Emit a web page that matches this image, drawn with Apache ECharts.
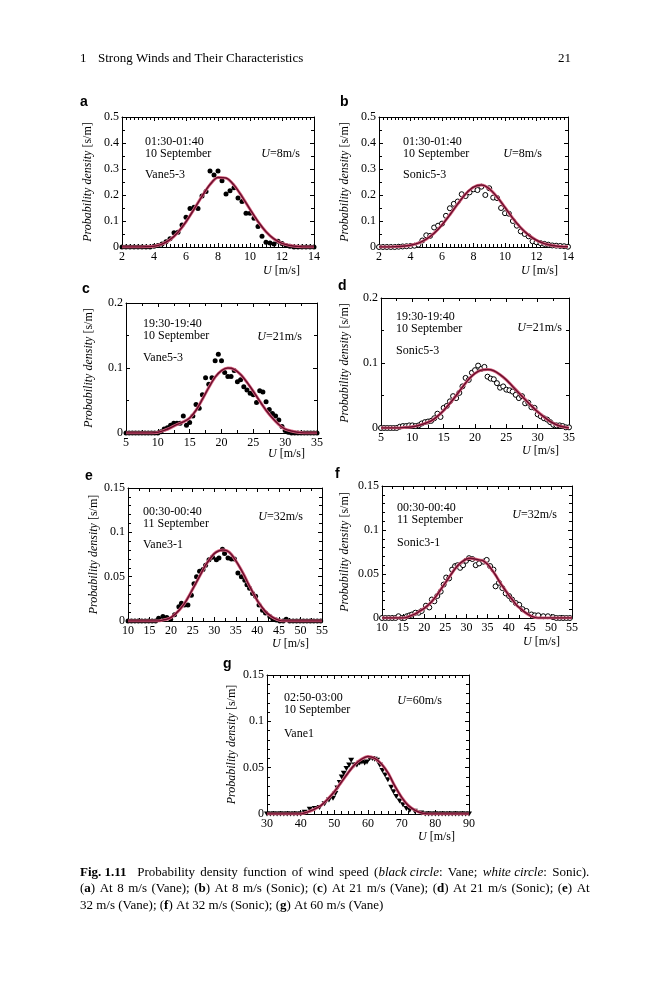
<!DOCTYPE html>
<html lang="en">
<head>
    <meta charset="UTF-8">
    <title>Fig. 1.11 Probability density of wind speed</title>
    <script src="https://cdn.jsdelivr.net/npm/echarts@6/dist/echarts.min.js"></script>
    <style>
        html, body { margin: 0; padding: 0; background: #fff; }
        #fig { width: 659px; height: 1000px; }
    </style>
</head>
<body>
<div id="fig"></div>
<script type="text/javascript">

    // ---- data: [U (m/s), probability density (s/m)] ----

    // (a) vane, 8 m/s
    const ptsA = [[2,0],[2.25,0],[2.5,0],[2.75,0],[3,0],[3.25,0],[3.5,0],[3.75,0],[4,0.003],[4.25,0.006],[4.5,0.012],[4.75,0.02],
        [5,0.032],[5.25,0.055],[5.5,0.057],[5.75,0.085],[6,0.114],[6.25,0.148],[6.5,0.153],[6.75,0.148],[7,0.196],[7.25,0.213],
        [7.5,0.292],[7.75,0.277],[8,0.292],[8.25,0.255],[8.5,0.204],[8.75,0.216],[9,0.228],[9.25,0.188],[9.5,0.175],[9.75,0.13],
        [10,0.13],[10.25,0.111],[10.5,0.079],[10.75,0.041],[11,0.018],[11.25,0.015],[11.5,0.012],[11.75,0.022],[12,0.013],
        [12.25,0.006],[12.5,0.003],[12.75,0],[13,0],[13.25,0],[13.5,0],[13.75,0],[14,0]];
    const fitA = [[2,0],[2.5,0],[3,0],[3.5,0.001],[4,0.003],[4.5,0.011],[5,0.028],[5.5,0.057],[6,0.097],[6.5,0.145],[7,0.195],
        [7.5,0.24],[8,0.267],[8.5,0.265],[9,0.238],[9.5,0.194],[10,0.145],[10.5,0.098],[11,0.059],[11.5,0.031],[12,0.014],
        [12.5,0.006],[13,0.002],[13.5,0],[14,0]];

    // (b) sonic, 8 m/s
    const ptsB = [[2,0],[2.25,0],[2.5,0],[2.75,0],[3,0],[3.25,0.001],[3.5,0.002],[3.75,0.003],[4,0.004],[4.25,0.005],[4.5,0.009],
        [4.75,0.025],[5,0.045],[5.25,0.043],[5.5,0.075],[5.75,0.082],[6,0.09],[6.25,0.12],[6.5,0.149],[6.75,0.166],[7,0.175],
        [7.25,0.203],[7.5,0.196],[7.75,0.21],[8,0.222],[8.25,0.219],[8.5,0.232],[8.75,0.2],[9,0.226],[9.25,0.19],[9.5,0.188],
        [9.75,0.15],[10,0.13],[10.25,0.128],[10.5,0.1],[10.75,0.082],[11,0.06],[11.25,0.05],[11.5,0.041],[11.75,0.022],
        [12,0.018],[12.25,0.015],[12.5,0.012],[12.75,0.009],[13,0.006],[13.25,0.005],[13.5,0.004],[13.75,0.003],[14,0.001]];
    const fitB = [[2,0],[2.5,0],[3,0.001],[3.5,0.003],[4,0.007],[4.5,0.015],[5,0.03],[5.5,0.053],[6,0.085],[6.5,0.124],[7,0.166],
        [7.5,0.204],[8,0.23],[8.5,0.238],[9,0.224],[9.5,0.192],[10,0.152],[10.5,0.11],[11,0.074],[11.5,0.046],[12,0.026],
        [12.5,0.013],[13,0.006],[13.5,0.002],[14,0.001]];

    // (c) vane, 21 m/s
    const ptsC = [[5,0],[5.5,0],[6,0],[6.5,0],[7,0],[7.5,0],[8,0],[8.5,0],[9,0],[9.5,0],[10,0],[10.5,0.002],[11,0.006],
        [11.5,0.008],[12,0.012],[12.5,0.015],[13,0.015],[13.5,0.015],[14,0.026],[14.5,0.012],[15,0.016],[15.5,0.026],
        [16,0.044],[16.5,0.038],[17,0.059],[17.5,0.085],[18,0.075],[18.5,0.085],[19,0.111],[19.5,0.121],[20,0.111],
        [20.5,0.093],[21,0.087],[21.5,0.087],[22,0.096],[22.5,0.079],[23,0.082],[23.5,0.071],[24,0.066],[24.5,0.061],
        [25,0.059],[25.5,0.047],[26,0.065],[26.5,0.063],[27,0.048],[27.5,0.036],[28,0.03],[28.5,0.026],[29,0.02],
        [29.5,0.01],[30,0.004],[30.5,0.001],[31,0],[31.5,0],[32,0],[32.5,0],[33,0],[33.5,0],[34,0],[34.5,0],[35,0]];
    const fitC = [[5,0],[6,0],[7,0],[8,0],[9,0],[10,0.001],[11,0.004],[12,0.008],[13,0.013],[14,0.017],[15,0.023],[16,0.035],
        [17,0.052],[18,0.07],[19,0.086],[20,0.096],[21,0.1],[22,0.098],[23,0.09],[24,0.078],[25,0.064],[26,0.049],[27,0.035],
        [28,0.023],[29,0.013],[30,0.006],[31,0.003],[32,0.001],[33,0],[34,0],[35,0]];

    // (d) sonic, 21 m/s
    const ptsD = [[5,0],[5.5,0],[6,0],[6.5,0],[7,0],[7.5,0],[8,0.002],[8.5,0.003],[9,0.003],[9.5,0.004],[10,0.004],[10.5,0.003],
        [11,0.004],[11.5,0.007],[12,0.009],[12.5,0.01],[13,0.011],[13.5,0.015],[14,0.022],[14.5,0.017],[15,0.031],[15.5,0.034],
        [16,0.041],[16.5,0.049],[17,0.046],[17.5,0.054],[18,0.064],[18.5,0.077],[19,0.074],[19.5,0.085],[20,0.089],[20.5,0.096],
        [21,0.091],[21.5,0.094],[22,0.079],[22.5,0.076],[23,0.075],[23.5,0.069],[24,0.062],[24.5,0.064],[25,0.059],[25.5,0.058],
        [26,0.056],[26.5,0.051],[27,0.046],[27.5,0.049],[28,0.038],[28.5,0.039],[29,0.032],[29.5,0.031],[30,0.021],[30.5,0.018],
        [31,0.015],[31.5,0.013],[32,0.009],[32.5,0.005],[33,0.004],[33.5,0.004],[34,0.003],[34.5,0.001],[35,0.001]];
    const fitD = [[5,0],[6,0],[7,0],[8,0],[9,0.001],[10,0.002],[11,0.004],[12,0.007],[13,0.011],[14,0.018],[15,0.027],[16,0.038],
        [17,0.05],[18,0.063],[19,0.075],[20,0.084],[21,0.089],[22,0.09],[23,0.088],[24,0.082],[25,0.074],[26,0.064],[27,0.054],
        [28,0.044],[29,0.034],[30,0.025],[31,0.017],[32,0.01],[33,0.005],[34,0.002],[35,0]];

    // (e) vane, 32 m/s
    const ptsE = [[10,0],[10.8,0],[11.6,0],[12.4,0],[13.2,0],[14,0],[14.8,0],[15.6,0],[16.4,0],[17.1,0.003],[18.1,0.005],[19,0.004],
        [19.9,0.002],[20.8,0.007],[21.8,0.016],[22.4,0.02],[23.1,0.018],[23.9,0.018],[24.7,0.029],[25.3,0.042],[25.9,0.05],
        [26.6,0.056],[27.4,0.058],[28,0.063],[28.8,0.069],[29.6,0.072],[30.5,0.069],[31.1,0.071],[31.9,0.081],[32.4,0.076],
        [33.2,0.071],[34,0.07],[34.7,0.07],[35.5,0.054],[36.3,0.05],[37.1,0.046],[37.6,0.041],[38.2,0.037],[38.9,0.031],
        [39.6,0.028],[40.4,0.018],[41.2,0.012],[41.9,0.009],[42.9,0.005],[43.6,0.002],[44.4,0.001],[45.2,0],[46,0],[46.7,0.002],
        [47.5,0],[48.3,0],[49.1,0],[49.9,0],[50.7,0],[51.5,0],[52.3,0],[53.1,0],[53.9,0],[54.7,0]];
    const fitE = [[10,0],[12,0],[14,0],[16,0],[17,0],[18,0.001],[19,0.002],[20,0.004],[21,0.008],[22,0.013],[23,0.019],[24,0.027],
        [25,0.036],[26,0.045],[27,0.054],[28,0.063],[29,0.07],[30,0.076],[31,0.079],[32,0.08],[33,0.079],[34,0.075],[35,0.068],
        [36,0.06],[37,0.051],[38,0.041],[39,0.032],[40,0.023],[41,0.016],[42,0.01],[43,0.006],[44,0.003],[45,0.001],[46,0],
        [48,0],[50,0],[52,0],[55,0]];

    // (f) sonic, 32 m/s
    const ptsF = [[10,0],[10.8,0],[11.6,0],[12.4,0],[13.2,0],[13.9,0.002],[14.7,0],[15.3,0],[15.9,0.002],[16.5,0.003],[17.1,0.004],
        [17.9,0.006],[18.7,0.006],[19.4,0.008],[20.4,0.014],[21.2,0.012],[21.8,0.021],[22.4,0.019],[23.1,0.025],[23.9,0.03],
        [24.6,0.038],[25.2,0.046],[25.9,0.045],[26.6,0.055],[27.3,0.059],[27.9,0.06],[28.5,0.057],[29.2,0.06],[29.9,0.065],
        [30.6,0.068],[31.4,0.067],[32.2,0.06],[33,0.062],[34,0.064],[34.8,0.066],[35.6,0.059],[36.4,0.055],[36.9,0.036],
        [37.7,0.04],[38.5,0.034],[39.3,0.028],[40.1,0.025],[40.8,0.021],[41.7,0.017],[42.5,0.015],[43.3,0.01],[44.2,0.008],
        [45.4,0.004],[46.2,0.003],[47,0.003],[48.2,0.002],[49.3,0.002],[50.5,0.001],[51.3,0],[52.1,0],[52.9,0],[53.7,0],[54.5,0]];
    const fitF = [[10,0],[12,0],[14,0],[15,0],[16,0.001],[17,0.003],[18,0.005],[19,0.008],[20,0.011],[21,0.015],[22,0.02],
        [23,0.026],[24,0.033],[25,0.04],[26,0.047],[27,0.054],[28,0.06],[29,0.064],[30,0.067],[31,0.068],[32,0.067],[33,0.066],
        [34,0.065],[35,0.061],[36,0.055],[37,0.048],[38,0.04],[39,0.033],[40,0.026],[41,0.02],[42,0.014],[43,0.01],[44,0.006],
        [45,0.003],[46,0.001],[47,0],[50,0],[55,0]];

    // (g) vane, 60 m/s
    const ptsG = [[30,0],[31,0],[32,0],[33,0],[34,0],[35,0],[36,0],[37,0],[38,0],[39,0],[40,0],[41.2,0.002],[42.7,0.005],
        [44.2,0.006],[45.6,0.007],[47.1,0.011],[48.4,0.015],[49.6,0.017],[50.3,0.022],[50.9,0.028],[51.6,0.034],[52.2,0.04],
        [52.8,0.044],[53.6,0.049],[54.4,0.053],[55,0.058],[56,0.053],[56.7,0.053],[57.5,0.055],[58.2,0.056],[59,0.055],
        [59.7,0.056],[60.5,0.06],[61.3,0.06],[62,0.059],[62.7,0.058],[63.5,0.053],[64.3,0.047],[65.1,0.042],[65.9,0.037],
        [66.9,0.029],[67.6,0.024],[68.4,0.019],[69.4,0.014],[70.4,0.01],[71.4,0.006],[72.4,0.004],[73.9,0.003],[75.8,0.001],
        [77,0],[78,0],[79,0],[80,0],[81,0],[82,0],[83,0],[84,0],[85,0],[86,0],[87,0],[88,0],[89,0],[90,0]];
    const fitG = [[30,0],[35,0],[40,0],[41,0.001],[42,0.002],[44,0.005],[46,0.009],[48,0.016],[50,0.024],[52,0.034],[54,0.044],
        [56,0.053],[58,0.059],[60,0.062],[62,0.06],[64,0.054],[66,0.044],[68,0.03],[70,0.018],[72,0.009],[74,0.004],[76,0.001],
        [78,0],[84,0],[90,0]];

    // panel labels and annotations
    const letters = ['a', 'b', 'c', 'd', 'e', 'f', 'g'];
    const periods = ['01:30-01:40\n10 September', '01:30-01:40\n10 September', '19:30-19:40\n10 September',
        '19:30-19:40\n10 September', '00:30-00:40\n11 September', '00:30-00:40\n11 September', '02:50-03:00\n10 September'];
    const sensors = ['Vane5-3', 'Sonic5-3', 'Vane5-3', 'Sonic5-3', 'Vane3-1', 'Sonic3-1', 'Vane1'];
    const meanU = ['8', '8', '21', '21', '32', '32', '60'];
    const points = [ptsA, ptsB, ptsC, ptsD, ptsE, ptsF, ptsG];
    const fits = [fitA, fitB, fitC, fitD, fitE, fitF, fitG];

    // axis scales: [min, max, interval, minor splits]
    const xScale = [[2, 14, 2, 8], [2, 14, 2, 8], [5, 35, 5, 2], [5, 35, 5, 2], [10, 55, 5, 2], [10, 55, 5, 2], [30, 90, 10, 5]];
    const yScale = [[0, 0.5, 0.1, 2], [0, 0.5, 0.1, 2], [0, 0.2, 0.1, 2], [0, 0.2, 0.1, 2],
        [0, 0.15, 0.05, 5], [0, 0.15, 0.05, 5], [0, 0.15, 0.05, 5]];

    // ---- layout (pixels) ----
    const boxes = [
        {left: 122, top: 117, width: 192, height: 130},
        {left: 379, top: 117, width: 189, height: 130},
        {left: 126, top: 303, width: 191, height: 130},
        {left: 381, top: 298, width: 188, height: 130},
        {left: 128, top: 488, width: 194, height: 133},
        {left: 382, top: 486, width: 190, height: 132},
        {left: 267, top: 675, width: 202, height: 139}
    ];
    const yNameGap = [28, 28, 31, 30, 27, 31, 29];
    // where the texts sit, relative to plot box: [periodDx, periodDy, sensorDy, uRightInset, uDy]
    const notePos = [[23, 19, 52, 14, 31], [24, 19, 52, 26, 31], [17, 15, 49, 15, 28], [15, 13, 47, 7, 24],
        [15, 18, 51, 19, 23], [15, 16, 51, 15, 23], [17, 17, 53, 27, 20]];
    // panel letter [x, y], x-name [left, top]
    const letterPos = [[80, 95], [340, 95], [82, 282], [338, 279], [85, 469], [335, 467], [223, 657]];
    const xNamePos = [[263, 265], [521, 265], [268, 448], [522, 445], [272, 638], [523, 636], [418, 831]];

    const serif = 'Liberation Serif';
    const black = '#000';

    let chart = echarts.init(document.getElementById('fig'));

    let grids = [], xAxes = [], yAxes = [], series = [], titles = [];

    function axisCommon(scale, pos, labels, gridIndex, margin) {
        return {
            gridIndex: gridIndex,
            type: 'value',
            position: pos,
            min: scale[0],
            max: scale[1],
            interval: scale[2],
            axisLine: {show: true, onZero: false, lineStyle: {color: black, width: 1}},
            axisTick: {show: true, inside: true, length: 4, lineStyle: {color: black, width: 1}},
            minorTick: {show: true, splitNumber: scale[3], length: 3, lineStyle: {color: black, width: 1}},
            splitLine: {show: false},
            minorSplitLine: {show: false},
            axisLabel: {show: labels, color: black, fontFamily: serif, fontSize: 12, margin: margin}
        };
    }

    for (let i = 0; i < 7; i++) {
        let b = boxes[i];
        grids.push({left: b.left, top: b.top, width: b.width, height: b.height, containLabel: false, outerBoundsMode: 'none'});

        xAxes.push(axisCommon(xScale[i], 'bottom', true, i, 4));
        xAxes.push(axisCommon(xScale[i], 'top', false, i, 4));

        let yl = axisCommon(yScale[i], 'left', true, i, 3);
        yl.name = '{i|Probability density} [s/m]';
        yl.nameLocation = 'middle';
        yl.nameGap = yNameGap[i];
        yl.nameRotate = 90;
        yl.nameTextStyle = {
            color: black, fontFamily: serif, fontSize: 12,
            rich: {i: {fontStyle: 'italic', fontFamily: serif, fontSize: 12, color: black}}
        };
        yAxes.push(yl);
        yAxes.push(axisCommon(yScale[i], 'right', false, i, 3));

        // scatter of measured densities: black dots for vane, open circles for sonic
        let sym = 'circle', size = 5, style = {color: black, opacity: 1};
        if (i === 1 || i === 3 || i === 5) {
            style = {color: '#fff', borderColor: black, borderWidth: 1, opacity: 1};
        }
        if (i === 6) {
            sym = 'path://M0,0 L10,0 L5,8 Z';
            size = [6, 5];
        }
        series.push({
            type: 'scatter',
            xAxisIndex: 2 * i,
            yAxisIndex: 2 * i,
            data: points[i],
            symbol: sym,
            symbolSize: size,
            itemStyle: style,
            z: 2,
            silent: true
        });

        // fitted curve (pink halo + dark core)
        series.push({
            type: 'line', xAxisIndex: 2 * i, yAxisIndex: 2 * i, data: fits[i],
            smooth: 0.3, showSymbol: false, symbol: 'none',
            lineStyle: {color: '#dc6a86', width: 3}, z: 3, silent: true
        });
        series.push({
            type: 'line', xAxisIndex: 2 * i, yAxisIndex: 2 * i, data: fits[i],
            smooth: 0.3, showSymbol: false, symbol: 'none',
            lineStyle: {color: '#6b0f2d', width: 1.5}, z: 4, silent: true
        });

        // texts in and around the panel
        let n = notePos[i];
        titles.push({
            text: periods[i], left: b.left + n[0], top: b.top + n[1], padding: 0,
            textStyle: {color: black, fontFamily: serif, fontSize: 12, fontWeight: 'normal', lineHeight: 12}
        });
        titles.push({
            text: sensors[i], left: b.left + n[0], top: b.top + n[2], padding: 0,
            textStyle: {color: black, fontFamily: serif, fontSize: 12, fontWeight: 'normal'}
        });
        titles.push({
            text: '{i|U}=' + meanU[i] + 'm/s', right: 659 - (b.left + b.width - n[3]), top: b.top + n[4], padding: 0,
            textStyle: {
                color: black, fontFamily: serif, fontSize: 12, fontWeight: 'normal',
                rich: {i: {fontStyle: 'italic', fontFamily: serif, fontSize: 12, color: black}}
            }
        });
        titles.push({
            text: '{i|U} [m/s]', left: xNamePos[i][0], top: xNamePos[i][1], padding: 0,
            textStyle: {
                color: black, fontFamily: serif, fontSize: 12, fontWeight: 'normal',
                rich: {i: {fontStyle: 'italic', fontFamily: serif, fontSize: 12, color: black}}
            }
        });
        titles.push({
            text: letters[i], left: letterPos[i][0], top: letterPos[i][1], padding: 0,
            textStyle: {color: black, fontFamily: 'Liberation Sans', fontSize: 14, fontWeight: 'bold'}
        });
    }

    // running head and caption
    const plainStyle = {color: black, fontFamily: serif, fontSize: 13, fontWeight: 'normal'};

    // widen the word gaps (outside rich tokens) so a caption line is justified like the print
    function justify(text) {
        return text.split(/(\{[^}]*\})/).map(function (part) {
            return part.charAt(0) === '{' ? part : part.replace(/ /g, '{s| }');
        }).join('');
    }
    function capStyle(gap) {
        return Object.assign({
            rich: {
                b: {fontWeight: 'bold', fontFamily: serif, fontSize: 13, color: black},
                i: {fontStyle: 'italic', fontFamily: serif, fontSize: 13, color: black},
                s: {width: gap, fontFamily: serif, fontSize: 13, color: black}
            }
        }, plainStyle);
    }

    titles.push({text: '1', left: 80, top: 52, padding: 0, textStyle: plainStyle});
    titles.push({text: 'Strong Winds and Their Characteristics', left: 98, top: 52, padding: 0, textStyle: plainStyle});
    titles.push({text: '21', left: 558, top: 52, padding: 0, textStyle: plainStyle});
    titles.push({
        text: justify('{b|Fig. 1.11}  Probability density function of wind speed ({i|black circle}: Vane; {i|white circle}: Sonic).'),
        left: 80, top: 866, padding: 0, textStyle: capStyle(5.3)
    });
    titles.push({
        text: justify('({b|a}) At 8 m/s (Vane); ({b|b}) At 8 m/s (Sonic); ({b|c}) At 21 m/s (Vane); ({b|d}) At 21 m/s (Sonic); ({b|e}) At'),
        left: 80, top: 882, padding: 0, textStyle: capStyle(4.5)
    });
    titles.push({
        text: '32 m/s (Vane); ({b|f}) At 32 m/s (Sonic); ({b|g}) At 60 m/s (Vane)',
        left: 80, top: 899, padding: 0, textStyle: capStyle(3.3)
    });

    let option = {
        backgroundColor: '#fff',
        animation: false,
        title: titles,
        grid: grids,
        xAxis: xAxes,
        yAxis: yAxes,
        series: series
    };

    chart.setOption(option);

</script>
</body>
</html>
